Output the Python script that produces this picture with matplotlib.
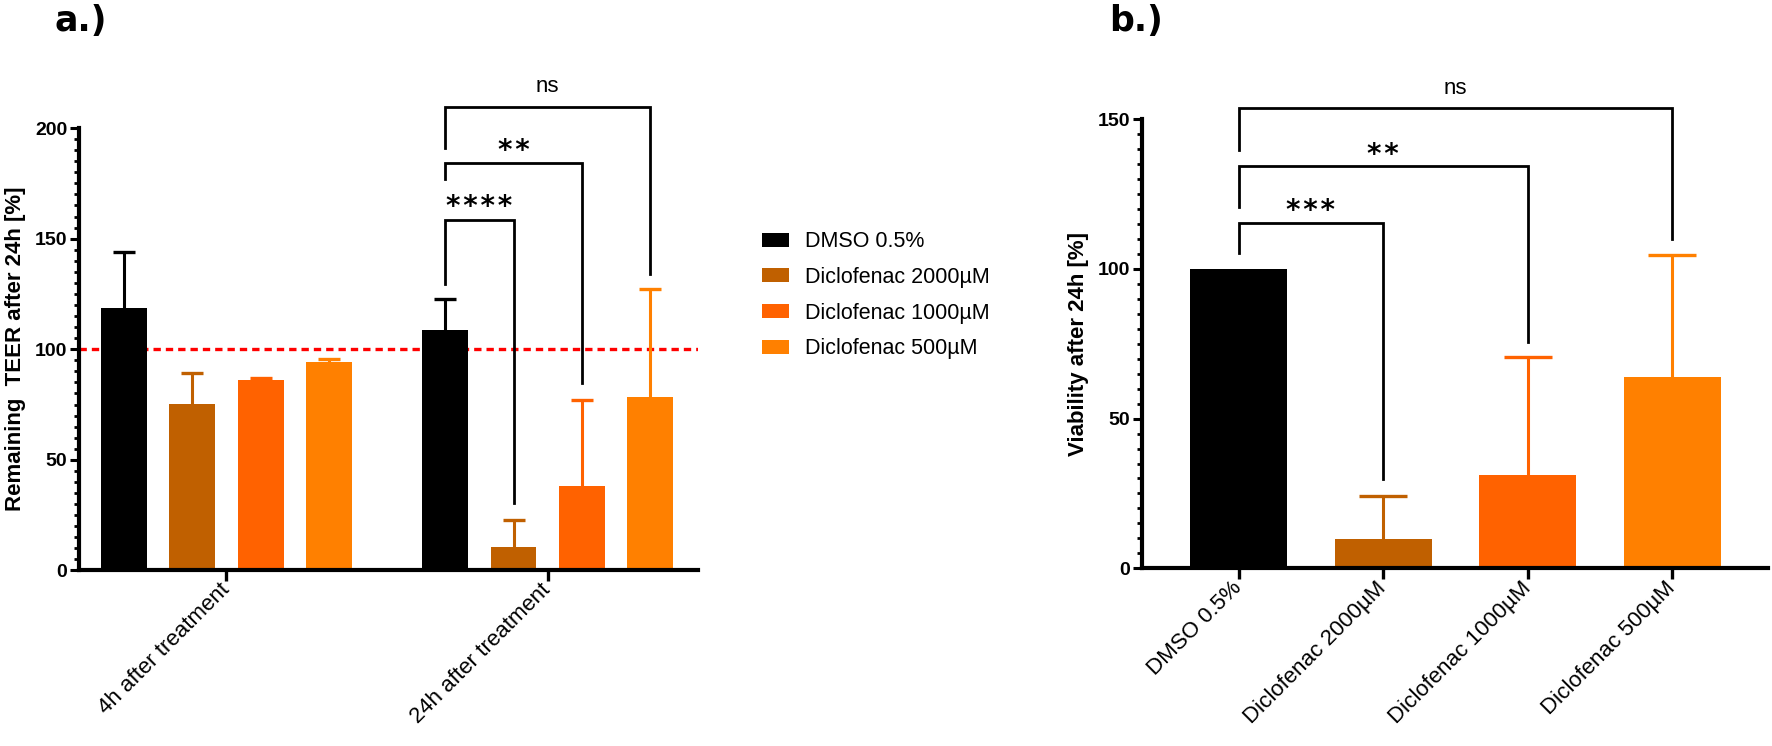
import matplotlib
matplotlib.use("Agg")
import matplotlib.pyplot as plt
from matplotlib.patches import Patch
from matplotlib.ticker import MultipleLocator
import numpy as np

plt.rcParams['font.family'] = ['Liberation Sans', 'DejaVu Sans']

# data
treatments = ['DMSO 0.5%', 'Diclofenac 2000µM', 'Diclofenac 1000µM', 'Diclofenac 500µM']
colors = ['#000000', '#C06000', '#FF6200', '#FF8000']

time_points = ['4h after treatment', '24h after treatment']
teer_4h = [118.6, 75.2, 86.1, 94.1]
teer_4h_err = [25.2, 14.2, 0.9, 1.6]
teer_24h = [108.8, 10.8, 38.0, 78.5]
teer_24h_err = [13.9, 12.0, 39.0, 48.8]

viability = [100.0, 9.9, 31.3, 64.0]
viability_err = [0.0, 14.2, 39.4, 40.6]

# significance brackets: (from, to, left leg bottom, top, right leg bottom, label, label centre)
teer_sig = [(0, 1, 129.5, 158.4, 30.5, '****', 167.3),
            (0, 2, 177.1, 184.2, 84.9, '**', 192.5),
            (0, 3, 191.0, 209.3, 134.0, 'ns', 218.7)]
viab_sig = [(0, 1, 105.2, 115.4, 29.7, '***', 121.5),
            (0, 2, 120.8, 134.4, 75.5, '**', 140.4),
            (0, 3, 139.8, 153.7, 110.0, 'ns', 160.5)]

fig = plt.figure(figsize=(17.72, 7.46), dpi=100)
ax1 = fig.add_axes([0.0446, 0.2353, 0.3491, 0.5931])
ax2 = fig.add_axes([0.6445, 0.2382, 0.3532, 0.6019])


def style_axis(ax):
    for s in ['top', 'right']:
        ax.spines[s].set_visible(False)
    for s in ['left', 'bottom']:
        ax.spines[s].set_linewidth(3.0)
    ax.yaxis.set_minor_locator(MultipleLocator(5))
    ax.tick_params(axis='y', which='major', length=6.5, width=2.2, pad=2, labelsize=14)
    ax.tick_params(axis='y', which='minor', length=3.4, width=2.0)
    ax.tick_params(axis='x', which='major', length=8, width=2.4, pad=4, labelsize=16)
    for lab in ax.get_yticklabels():
        lab.set_fontweight('bold')


def upper_errorbar(ax, x, y, err, color, capsize):
    _, caps, _ = ax.errorbar(x, y, yerr=[[0], [err]], color=color, lw=2.2,
                             capsize=capsize, capthick=2.4, zorder=3)
    # keep only the cap on top of the bar
    for c in caps:
        if np.allclose(c.get_ydata(), y):
            c.set_visible(False)


def draw_brackets(ax, xs, sig):
    for i0, i1, yl, yt, yr, label, yc in sig:
        x0, x1 = xs[i0], xs[i1]
        ax.plot([x0, x0, x1, x1], [yl, yt, yt, yr], color='black', lw=2.0,
                clip_on=False, zorder=4, solid_joinstyle='miter')
        if label == 'ns':
            ax.annotate(label, xy=((x0 + x1) / 2, yc), xytext=(0, -0.26 * 16),
                        textcoords='offset points', ha='center', va='baseline',
                        fontsize=16, annotation_clip=False)
        else:
            ax.annotate('\u200a'.join(label), xy=((x0 + x1) / 2, yc),
                        xytext=(0, -0.53 * 20), textcoords='offset points',
                        ha='center', va='baseline', fontsize=20, fontweight='bold',
                        family='DejaVu Sans', annotation_clip=False)


# panel a
step = 0.2126
width = 0.1432
offsets = (np.arange(len(treatments)) - 1.5) * step
xg = np.arange(len(time_points))
ax1.axhline(100, color='red', lw=2.4, linestyle=(0, (2.2, 1.5)), zorder=1.5)
for j, (vals, errs) in enumerate([(teer_4h, teer_4h_err), (teer_24h, teer_24h_err)]):
    for i in range(len(treatments)):
        x = xg[j] + offsets[i]
        ax1.bar(x, vals[i], width=width, color=colors[i], zorder=2)
        upper_errorbar(ax1, x, vals[i], errs[i], colors[i], 8)
ax1.set_xlim(-0.459, 1.467)
ax1.set_ylim(0, 200)
ax1.yaxis.set_major_locator(MultipleLocator(50))
ax1.set_xticks(xg)
ax1.set_xticklabels(time_points, rotation=45, ha='right', rotation_mode='anchor', va='center')
style_axis(ax1)
ax1.set_ylabel('Remaining  TEER after 24h [%]', fontsize=16, fontweight='bold', labelpad=6)
draw_brackets(ax1, xg[1] + offsets, teer_sig)

# panel b
xb = np.arange(len(treatments))
ax2.bar(xb, viability, width=0.671, color=colors, zorder=2)
for i in range(len(treatments)):
    if viability_err[i] > 0:
        upper_errorbar(ax2, xb[i], viability[i], viability_err[i], colors[i], 17)
ax2.set_xlim(-0.669, 3.663)
ax2.set_ylim(0, 150)
ax2.yaxis.set_major_locator(MultipleLocator(50))
ax2.set_xticks(xb)
ax2.set_xticklabels(treatments, rotation=45, ha='right', rotation_mode='anchor', va='center')
style_axis(ax2)
ax2.set_ylabel('Viability after 24h [%]', fontsize=16, fontweight='bold', labelpad=6)
draw_brackets(ax2, xb, viab_sig)

# legend
handles = [Patch(facecolor=c, edgecolor='none') for c in colors]
fig.legend(handles, treatments, loc='upper left', bbox_to_anchor=(0.430, 0.690),
           frameon=False, fontsize=15.5, handlelength=1.25, handleheight=0.62,
           handletextpad=0.75, labelspacing=0.68, borderpad=0, borderaxespad=0)

fig.text(0.031, 0.995, 'a.)', fontsize=25, fontweight='bold', va='top', ha='left',
         family='DejaVu Sans')
fig.text(0.626, 0.995, 'b.)', fontsize=25, fontweight='bold', va='top', ha='left',
         family='DejaVu Sans')

fig.savefig('out.png', dpi=100)
